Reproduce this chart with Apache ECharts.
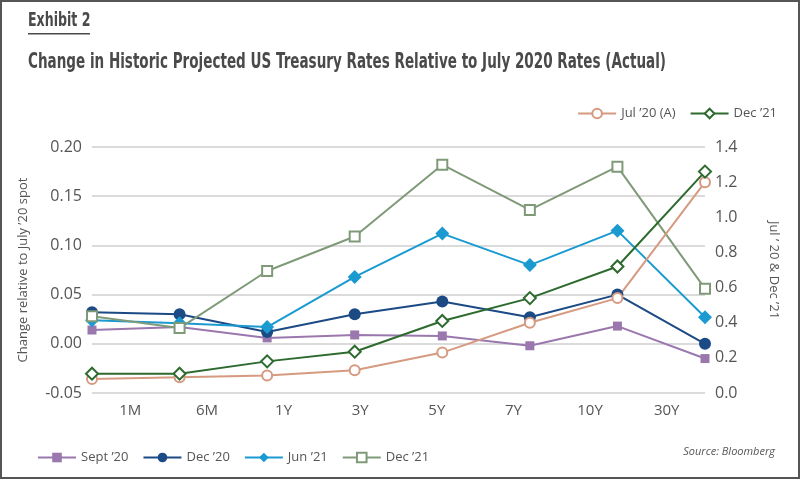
<!DOCTYPE html>
<html><head><meta charset="utf-8">
<script src="https://cdn.jsdelivr.net/npm/echarts@6/dist/echarts.min.js"></script>
<style>html,body{margin:0;padding:0;background:#fff}#c{width:800px;height:479px}</style>
</head><body><div id="c"></div>
<script>
const categories = ['1M','6M','1Y','3Y','5Y','7Y','10Y','30Y'];
const sept20 = [0.014, 0.017, 0.006, 0.009, 0.008, -0.002, 0.018, -0.015];
const dec20  = [0.032, 0.030, 0.012, 0.030, 0.043, 0.027, 0.050, 0.000];
const jun21  = [0.024, 0.021, 0.017, 0.068, 0.112, 0.080, 0.115, 0.027];
const dec21L = [0.028, 0.016, 0.074, 0.109, 0.182, 0.136, 0.180, 0.056];
const jul20A = [0.08, 0.09, 0.10, 0.13, 0.23, 0.40, 0.54, 1.20];
const dec21R = [0.11, 0.11, 0.18, 0.235, 0.41, 0.54, 0.72, 1.26];
const leftTicks = {min: -0.05, max: 0.20, interval: 0.05};
const rightTicks = {min: 0, max: 1.4, interval: 0.2};

const labels = {S20:'Sept ’20', D20:'Dec ’20', J21:'Jun ’21', D21L:'Dec ’21', J20:'Jul ’20 (A)', D21R:'Dec ’21'};
const font = '"Open Sans", "Noto Sans", sans-serif';
const titleFont = '"DejaVu Sans", sans-serif';

function mk(name, data, color, symbol, size, yIdx, empty) {
  return {
    name, type: 'line', data, xAxisIndex: 1, yAxisIndex: yIdx,
    symbol, symbolSize: size, showAllSymbol: true,
    lineStyle: {color, width: 2},
    itemStyle: {color: empty ? '#fff' : color, borderColor: color, borderWidth: empty ? 2 : 0},
    emphasis: {disabled: true}
  };
}

const chart = echarts.init(document.getElementById('c'));
chart.setOption({
  animation: false,
  grid: {left: 92, right: 95, top: 147, bottom: 86},
  graphic: [
    {type: 'rect', shape: {x: 1, y: 1, width: 798, height: 477}, style: {fill: 'none', stroke: '#555', lineWidth: 2}},
    {type: 'text', x: 28, y: 12, scaleX: 0.663, style: {text: 'Exhibit 2', font: 'bold 19px ' + titleFont, fill: '#4a4a4a'}},
    {type: 'rect', shape: {x: 28, y: 33, width: 62, height: 1.5}, style: {fill: '#4a4a4a'}},
    {type: 'text', x: 28, y: 51, scaleX: 0.615, style: {text: 'Change in Historic Projected US Treasury Rates Relative to July 2020 Rates (Actual)', font: 'bold 22px ' + titleFont, fill: '#4a4a4a'}},
    {type: 'text', right: 25, top: 446, style: {text: 'Source: Bloomberg', font: 'italic 11px ' + font, fill: '#555'}}
  ],
  legend: [
    {data: ['J20', 'D21R'], right: 18, top: 102, itemWidth: 38, itemHeight: 12, itemGap: 14,
     formatter: n => labels[n], textStyle: {fontFamily: font, fontSize: 13, color: '#555'}},
    {data: ['S20', 'D20', 'J21', 'D21L'], left: 32, top: 446, itemWidth: 38, itemHeight: 12, itemGap: 14,
     formatter: n => labels[n], textStyle: {fontFamily: font, fontSize: 13, color: '#555'}}
  ],
  xAxis: [
    {type: 'category', data: categories, boundaryGap: true, position: 'bottom',
     axisLine: {show: false}, axisTick: {show: false},
     axisLabel: {fontFamily: font, fontSize: 15, color: '#555', margin: 10}},
    {type: 'category', data: categories, boundaryGap: false, position: 'bottom',
     axisLine: {show: false}, axisTick: {show: false}, axisLabel: {show: false}}
  ],
  yAxis: [
    {type: 'value', min: leftTicks.min, max: leftTicks.max, interval: leftTicks.interval,
     name: 'Change relative to July ’20 spot', nameLocation: 'middle', nameGap: 62, nameRotate: 90,
     nameTextStyle: {fontFamily: font, fontSize: 13, color: '#555'},
     axisLine: {show: false}, axisTick: {show: false},
     axisLabel: {fontFamily: font, fontSize: 16, color: '#555', margin: 10, formatter: v => v.toFixed(2)},
     splitLine: {lineStyle: {color: '#cfcfcf', width: 1.5}}},
    {type: 'value', min: rightTicks.min, max: rightTicks.max, interval: rightTicks.interval,
     name: 'Jul ’ 20 & Dec ’21', nameLocation: 'middle', nameGap: 62, nameRotate: -90,
     nameTextStyle: {fontFamily: font, fontSize: 13, color: '#555'},
     axisLine: {show: false}, axisTick: {show: false},
     axisLabel: {fontFamily: font, fontSize: 16, color: '#555', margin: 10, formatter: v => v.toFixed(1)},
     splitLine: {show: false}}
  ],
  series: [
    mk('S20', sept20, '#9a78ad', 'rect', 9, 0, false),
    mk('D20', dec20, '#1b4a85', 'circle', 12, 0, false),
    mk('J21', jun21, '#1a9ad0', 'diamond', 14, 0, false),
    mk('D21L', dec21L, '#7f9a78', 'rect', 10, 0, true),
    mk('J20', jul20A, '#d59a80', 'circle', 10, 1, true),
    mk('D21R', dec21R, '#2d6a2e', 'diamond', 12, 1, true)
  ]
});
</script></body></html>
